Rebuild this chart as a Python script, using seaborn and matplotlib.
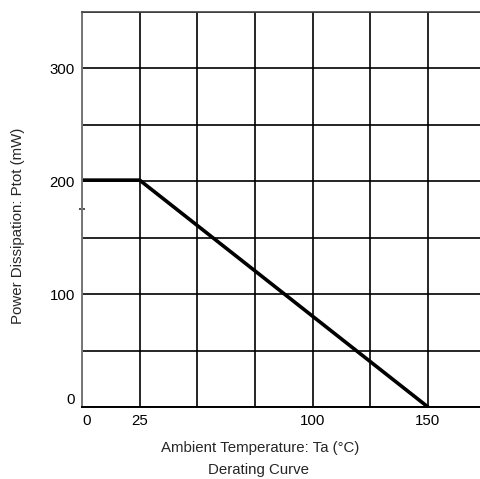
import matplotlib
matplotlib.use("Agg")
import matplotlib.pyplot as plt
import pandas as pd
import seaborn as sns

sns.set_style("white")
plt.rcParams["font.family"] = ["Liberation Sans", "DejaVu Sans"]

# derating curve points
temp_c = [0, 25, 150]
power_mw = [201, 201, 0]

x_grid = [0, 25, 50, 75, 100, 125, 150]
y_grid = [0, 50, 100, 150, 200, 250, 300, 350]
x_ticklabels = ["0", "25", "", "", "100", "", "150"]
y_ticklabels = ["0", "", "100", "", "200", "", "300", ""]

FS = 10.8

df = pd.DataFrame({"temp": temp_c, "power": power_mw})

fig = plt.figure(figsize=(4.81, 4.79), dpi=100)
ax = fig.add_axes([0.1705, 0.1503, 0.8295, 0.8247])

sns.lineplot(data=df, x="temp", y="power", ax=ax, color="black", linewidth=2.6)

ax.set_xlim(0, 173)
ax.set_ylim(0, 350)
ax.set_xticks(x_grid)
ax.set_xticklabels(x_ticklabels)
ax.set_yticks(y_grid)
ax.set_yticklabels(y_ticklabels)
ax.set_yticks([175], minor=True)
ax.tick_params(axis="both", which="major", length=0, labelsize=FS, colors="black", pad=5)
ax.tick_params(axis="y", which="minor", left=True, length=4, width=1.2,
               direction="inout", color="#333333")
ax.grid(True, color="black", linewidth=1.2)

# nudge the zero labels off the corner
ax.get_xticklabels()[0].set_horizontalalignment("left")
ax.get_yticklabels()[0].set_verticalalignment("bottom")

ax.set_xlabel("")
ax.set_ylabel("")
ax.spines["right"].set_visible(False)
ax.spines["top"].set_color("#444444")
ax.spines["top"].set_linewidth(1.2)
ax.spines["left"].set_color("#777777")
ax.spines["left"].set_linewidth(1.4)
ax.spines["bottom"].set_color("black")
ax.spines["bottom"].set_linewidth(1.4)

fig.text(260 / 481, 1 - 448 / 479, "Ambient Temperature: Ta (\u00b0C)", ha="center", va="center", fontsize=FS)
fig.text(258 / 481, 1 - 470 / 479, "Derating Curve", ha="center", va="center", fontsize=FS)
fig.text(18 / 481, 1 - 226 / 479, "Power Dissipation: Ptot (mW)", ha="center", va="center",
         rotation=90, fontsize=FS)

fig.savefig("out.png", dpi=100)
